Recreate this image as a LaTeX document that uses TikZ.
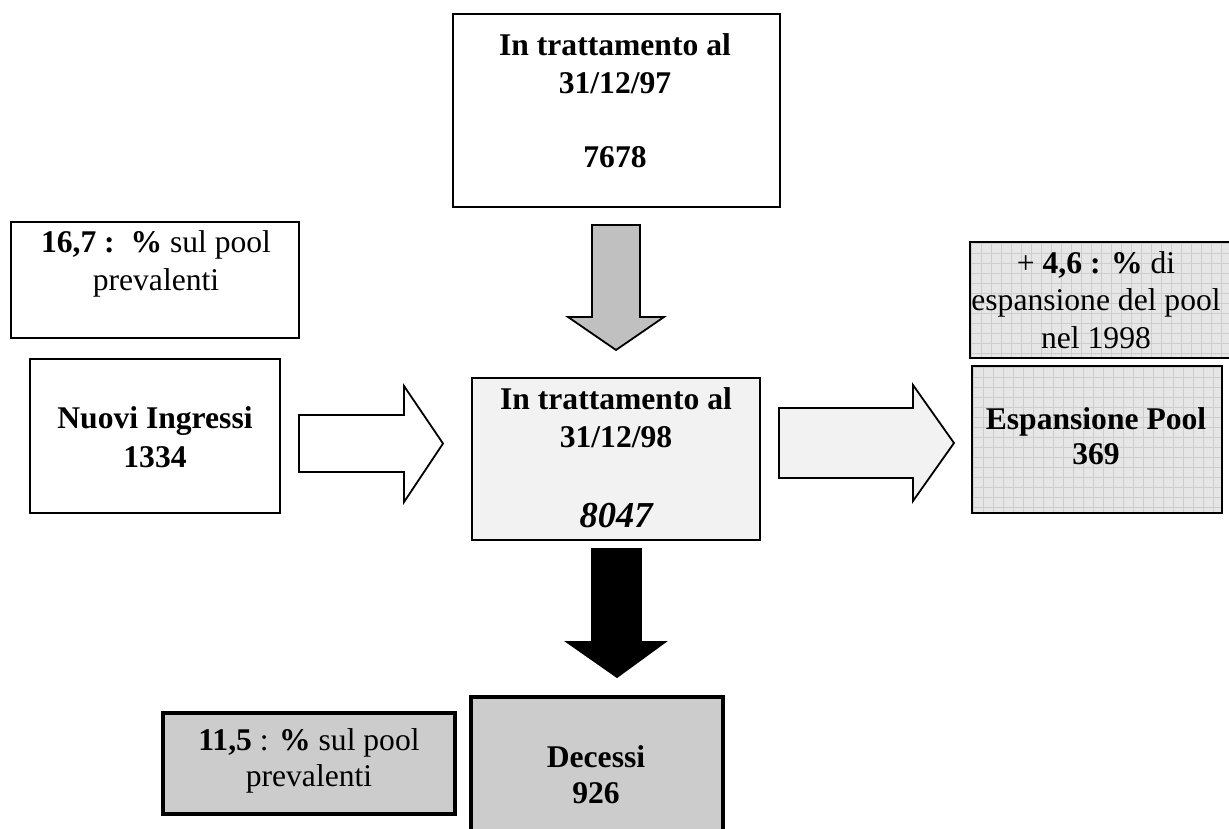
\documentclass[tikz,border=0pt]{standalone}
\usepackage{fontspec}
\setmainfont{Liberation Serif}
\definecolor{boxgray}{RGB}{204,204,204}
\definecolor{lightfill}{RGB}{242,242,242}
\definecolor{arrowgray}{RGB}{192,192,192}
\definecolor{gridbg}{RGB}{230,230,230}
\definecolor{gridln}{RGB}{205,205,205}
\begin{document}
\begin{tikzpicture}[x=1pt,y=-1pt,
  box/.style={draw=black, line width=1.8pt, inner sep=0pt},
  thickbox/.style={draw=black, line width=4.5pt, inner sep=0pt, fill=boxgray},
  gridbox/.style={box, fill=gridbg, path picture={
      \foreach \i in {0,...,30}{
        \draw[gridln, line width=0.8pt] ([xshift=\i*10pt+1pt]path picture bounding box.north west) -- ([xshift=\i*10pt+1pt]path picture bounding box.south west);
      }
      \foreach \i in {0,...,16}{
        \draw[gridln, line width=0.8pt] ([yshift=-\i*10pt-1pt]path picture bounding box.north west) -- ([yshift=-\i*10pt-1pt]path picture bounding box.north east);
      }
    }},
  txt/.style={inner sep=0pt, anchor=base, font=\fontsize{31.6pt}{37.5pt}\selectfont},
  blockarrow/.style={draw=black, line width=1.8pt, line join=miter},
]
\clip (0,0) rectangle (1229,829);
\fill[white] (0,0) rectangle (1229,829);

% boxes
\node[box, fill=white, minimum width=327pt, minimum height=193pt] (t97) at (616.5,110.5) {};
\node[box, fill=white, minimum width=288pt, minimum height=116pt] (p167) at (155,280) {};
\node[box, fill=white, minimum width=250pt, minimum height=154pt] (nuovi) at (155,436) {};
\node[box, fill=lightfill, minimum width=288pt, minimum height=162pt] (c98) at (616,459) {};
\node[gridbox, minimum width=270pt, minimum height=116pt] (p46) at (1105,300) {};
\node[gridbox, minimum width=250pt, minimum height=147pt] (esp) at (1097,439.5) {};
\node[thickbox, minimum width=292pt, minimum height=101pt] (p115) at (309,763.5) {};
\node[thickbox, minimum width=252pt, minimum height=170pt] (dec) at (597,782) {};

% block arrows
\draw[blockarrow, fill=arrowgray] (592,225) -- (640,225) -- (640,317) -- (664,317) -- (616,350) -- (568,317) -- (592,317) -- cycle;
\draw[blockarrow, fill=white] (299,415) -- (404,415) -- (404,386) -- (443,443.5) -- (404,502) -- (404,472) -- (299,472) -- cycle;
\draw[blockarrow, fill=lightfill] (779,408) -- (913,408) -- (913,385) -- (954,443) -- (913,501) -- (913,478) -- (779,478) -- cycle;
\draw[blockarrow, fill=black] (592,549) -- (641,549) -- (641,642) -- (665,642) -- (617,677) -- (567,642) -- (592,642) -- cycle;

% texts
\node[txt] (t97a) at (615,56) {\textbf{In trattamento al}};
\node[txt] (t97b) at (615,94) {\textbf{31/12/97}};
\node[txt] (t97c) at (615,168) {\textbf{7678}};

\node[txt] (c98a) at (616,409) {\textbf{In trattamento al}};
\node[txt] (c98b) at (616,447) {\textbf{31/12/98}};
\node[txt, font=\fontsize{36.5pt}{40pt}\selectfont\bfseries\itshape] (c98c) at (616,527) {8047};

\node[txt] (na) at (155,428) {\textbf{Nuovi Ingressi}};
\node[txt] (nb) at (155,467) {\textbf{1334}};

\node[txt] (pa) at (156,253) {\textbf{16,7 :\ \ \%} sul pool};
\node[txt] (pb) at (156,290) {prevalenti};

\node[txt] (qa) at (1096,273) {+ \textbf{4,6 : \%} di};
\node[txt] (qb) at (1096,310) {espansione del pool};
\node[txt] (qc) at (1096,348) {nel 1998};

\node[txt] (ea) at (1096,429) {\textbf{Espansione Pool}};
\node[txt] (eb) at (1096,464) {\textbf{369}};

\node[txt] (da) at (596,767) {\textbf{Decessi}};
\node[txt] (db) at (596,803) {\textbf{926}};

\node[txt] (ra) at (309,750) {\textbf{11,5} : \textbf{\%} sul pool};
\node[txt] (rb) at (309,786) {prevalenti};
\end{tikzpicture}
\end{document}
